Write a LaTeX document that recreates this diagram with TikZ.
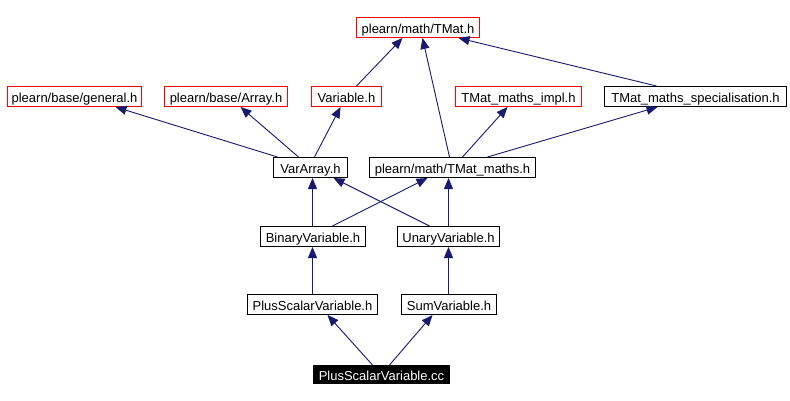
\documentclass[tikz,border=0pt]{standalone}
\usepackage{fontspec}
\setmainfont{Liberation Sans}
\usetikzlibrary{arrows.meta}
\definecolor{edgeblue}{HTML}{191970}
\tikzset{
  box/.style={draw=black, line width=1pt, fill=white, inner sep=0pt, minimum height=20pt, text height=12pt, text depth=0pt, font=\fontsize{13}{15}\selectfont},
  redbox/.style={box, draw=red},
  mainbox/.style={box, draw=black, fill=black, text=white, minimum height=18pt, text height=11.5pt},
  arr/.style={draw=edgeblue, line width=0.9pt, -{Triangle[length=11pt,width=9pt]}}
}
\begin{document}
\begin{tikzpicture}[x=1pt,y=-1pt]
\useasboundingbox[fill=white] (0,0) rectangle (790,401);
\node[redbox, minimum width=123pt] (tmat) at (418,27.5) {plearn/math/TMat.h};
\node[redbox, minimum width=134pt] (gen) at (74.5,96.5) {plearn/base/general.h};
\node[redbox, minimum width=123pt] (arr) at (226,96.5) {plearn/base/Array.h};
\node[redbox, minimum width=70pt] (var) at (346.5,96.5) {Variable.h};
\node[redbox, minimum width=126pt] (impl) at (518.5,96.5) {TMat\_maths\_impl.h};
\node[box, minimum width=182pt] (spec) at (695.5,96.5) {TMat\_maths\_specialisation.h};
\node[box, minimum width=74pt] (va) at (310.5,167.5) {VarArray.h};
\node[box, minimum width=166pt] (tmm) at (452.5,167.5) {plearn/math/TMat\_maths.h};
\node[box, minimum width=105pt] (bin) at (313,236.5) {BinaryVariable.h};
\node[box, minimum width=102pt] (una) at (448.5,236.5) {UnaryVariable.h};
\node[box, minimum width=130pt] (psv) at (312.5,304.5) {PlusScalarVariable.h};
\node[box, minimum width=95pt] (sum) at (449,304.5) {SumVariable.h};
\node[mainbox, minimum width=136pt] (cc) at (381.5,374.5) {PlusScalarVariable.cc};

\draw[arr] ([xshift=-9pt]cc.north) -- ([xshift=15pt]psv.south);
\draw[arr] ([xshift=8pt]cc.north) -- ([xshift=-16.5pt]sum.south);
\draw[arr] (psv.north) -- (psv.north |- bin.south);
\draw[arr] ([xshift=-0.5pt]sum.north) -- ([xshift=-0.5pt]sum.north |- una.south);
\draw[arr] ([xshift=-0.5pt]bin.north) -- ([xshift=-0.5pt]bin.north |- va.south);
\draw[arr] ([xshift=19.5pt]bin.north) -- ([xshift=-25pt]tmm.south);
\draw[arr] ([xshift=-19pt]una.north) -- ([xshift=23pt]va.south);
\draw[arr] (una.north) -- (una.north |- tmm.south);
\draw[arr] ([xshift=-33pt]va.north) -- ([xshift=41pt]gen.south);
\draw[arr] ([xshift=-12pt]va.north) -- ([xshift=14.5pt]arr.south);
\draw[arr] ([xshift=4pt]va.north) -- ([xshift=-6pt]var.south);
\draw[arr] ([xshift=10pt]var.north) -- ([xshift=-15.5pt]tmat.south);
\draw[arr] ([xshift=-3pt]tmm.north) -- ([xshift=4.5pt]tmat.south);
\draw[arr] ([xshift=10pt]tmm.north) -- ([xshift=-11pt]impl.south);
\draw[arr] ([xshift=35pt]tmm.north) -- ([xshift=-38pt]spec.south);
\draw[arr] ([xshift=-39pt]spec.north) -- ([xshift=40.5pt]tmat.south);
\end{tikzpicture}
\end{document}
